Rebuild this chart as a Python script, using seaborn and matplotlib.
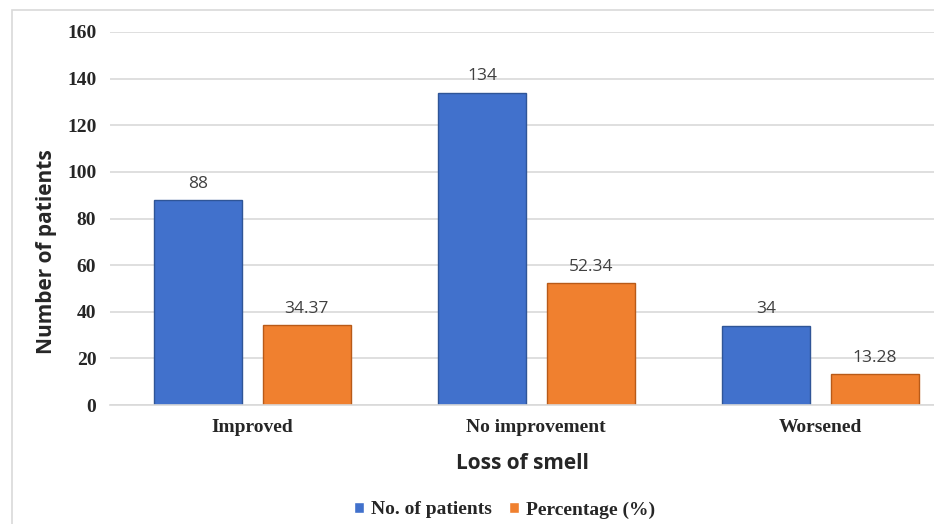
import matplotlib
matplotlib.use("Agg")
import matplotlib.pyplot as plt
import seaborn as sns
import pandas as pd
from matplotlib.patches import Rectangle

# values
categories = ["Improved", "No improvement", "Worsened"]
patients = [88, 134, 34]
percentage = [34.37, 52.34, 13.28]
series_names = ["No. of patients", "Percentage (%)"]
y_ticks = [0, 20, 40, 60, 80, 100, 120, 140, 160]

df = pd.DataFrame({
    "category": categories * 2,
    "series": [series_names[0]] * 3 + [series_names[1]] * 3,
    "value": patients + percentage,
})

sns.set_style("white")
serif = ["Liberation Serif", "DejaVu Serif"]
sans = ["Open Sans", "DejaVu Sans"]

fig = plt.figure(figsize=(9.34, 5.24), dpi=100)
ax = fig.add_axes([0.118, 0.227, 0.882, 0.712])

palette = {series_names[0]: "#4171CC", series_names[1]: "#F0802F"}
sns.barplot(data=df, x="category", y="value", hue="series", order=categories,
            hue_order=series_names, palette=palette, width=0.765, gap=0.19,
            saturation=1, ax=ax, legend=True)

edges = ["#2F5597", "#B85A18"]
for cont, ec in zip(ax.containers, edges):
    for bar in cont:
        bar.set_edgecolor(ec)
        bar.set_linewidth(1.0)
    labels = [f"{v:g}" if float(v).is_integer() else f"{v:.2f}" for v in cont.datavalues]
    ax.bar_label(cont, labels=labels, padding=6, fontsize=12.5, color="#404040",
                 family=sans)

ax.set_ylim(0, 160)
ax.set_xlim(-0.5, 2.4)
ax.set_yticks(y_ticks)
ax.set_yticklabels([str(t) for t in y_ticks], family=serif, fontsize=14,
                   fontweight="bold")
ax.set_xticks(range(len(categories)))
ax.set_xticklabels(categories, family=serif, fontsize=14, fontweight="bold")
ax.tick_params(axis="x", length=0, pad=10)
ax.tick_params(axis="y", length=0, pad=10)
ax.yaxis.grid(True, color="#D9D9D9", linewidth=1.2)
ax.set_axisbelow(True)
for s in ["top", "right", "left"]:
    ax.spines[s].set_visible(False)
ax.spines["bottom"].set_color("#D9D9D9")
ax.spines["bottom"].set_linewidth(1.2)

ax.set_ylabel("Number of patients", family=sans, fontsize=15, fontweight="bold")
ax.yaxis.set_label_coords(-0.064, 0.41)
ax.set_xlabel("Loss of smell", family=sans, fontsize=15, fontweight="bold",
              labelpad=12)

handles, lbls = ax.get_legend_handles_labels()
ax.legend(handles, lbls, loc="center", bbox_to_anchor=(0.54, 0.027),
          bbox_transform=fig.transFigure, ncol=2, frameon=False,
          handlelength=0.5, handleheight=0.5, handletextpad=0.35,
          columnspacing=0.9, prop={"family": serif, "weight": "bold", "size": 14})

# light outer frame of the original chart area
fig.patches.append(Rectangle((12 / 934, -0.1), 1.2, 1 - 10 / 524 + 0.1,
                             transform=fig.transFigure, fill=False,
                             edgecolor="#D9D9D9", linewidth=1.2))

fig.savefig("out.png", dpi=100)
